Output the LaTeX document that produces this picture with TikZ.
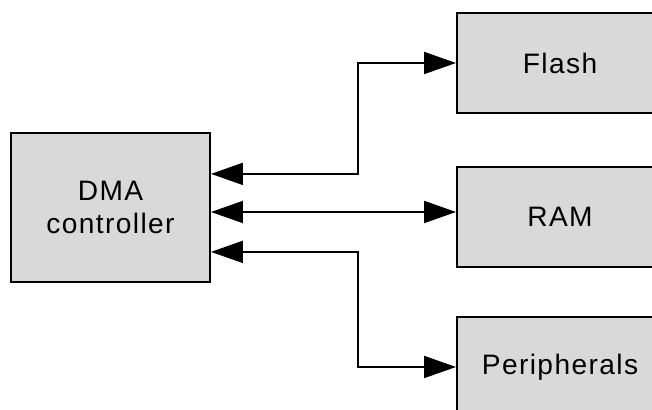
\documentclass[tikz,border=0pt]{standalone}
\usepackage{fontspec}
\setmainfont[LetterSpace=5]{Liberation Sans}
\usetikzlibrary{arrows.meta}

\definecolor{boxgray}{HTML}{D9D9D9}

\tikzstyle{dmaunit} = [draw=black, fill=boxgray, line width=1.4pt, rectangle,
  minimum width=4.975cm, minimum height=3.725cm, align=center,
  font=\fontsize{20}{24}\selectfont]
\tikzstyle{memunit} = [draw=black, fill=boxgray, line width=1.4pt,
  rectangle, minimum width=5.15cm, minimum height=2.5cm,
  font=\fontsize{20}{24}\selectfont]
\tikzstyle{link} = [line width=1.4pt, {Triangle[length=0.8cm,width=0.55cm]}-{Triangle[length=0.8cm,width=0.55cm]}]

\begin{document}
\begin{tikzpicture}
        \useasboundingbox (0,0) rectangle (16.3,10.25);
        \clip (0,0) rectangle (16.3,10.25);
        \node [dmaunit] (dma)    at (2.7625, 5.0625) {DMA\\controller};
        \node [memunit] (flash)  at (14.0,   8.675)  {Flash};
        \node [memunit] (ram)    at (14.0,   4.825)  {RAM};
        \node [memunit] (periph) at (14.0,   1.075)  {Peripherals};

        \coordinate (bus)       at (8.95, 5);
        \coordinate (dmaflash)  at ([yshift=0.84cm]dma.east);
        \coordinate (dmaperiph) at ([yshift=-1.11cm]dma.east);

        \draw[link] (dmaflash) -- (dmaflash -| bus) |- (flash.west);
        \draw[link] ([yshift=0.125cm]dma.east |- ram.west) -- ([yshift=0.125cm]ram.west);
        \draw[link] (dmaperiph) -- (dmaperiph -| bus) |- (periph.west);
      \end{tikzpicture}
\end{document}
